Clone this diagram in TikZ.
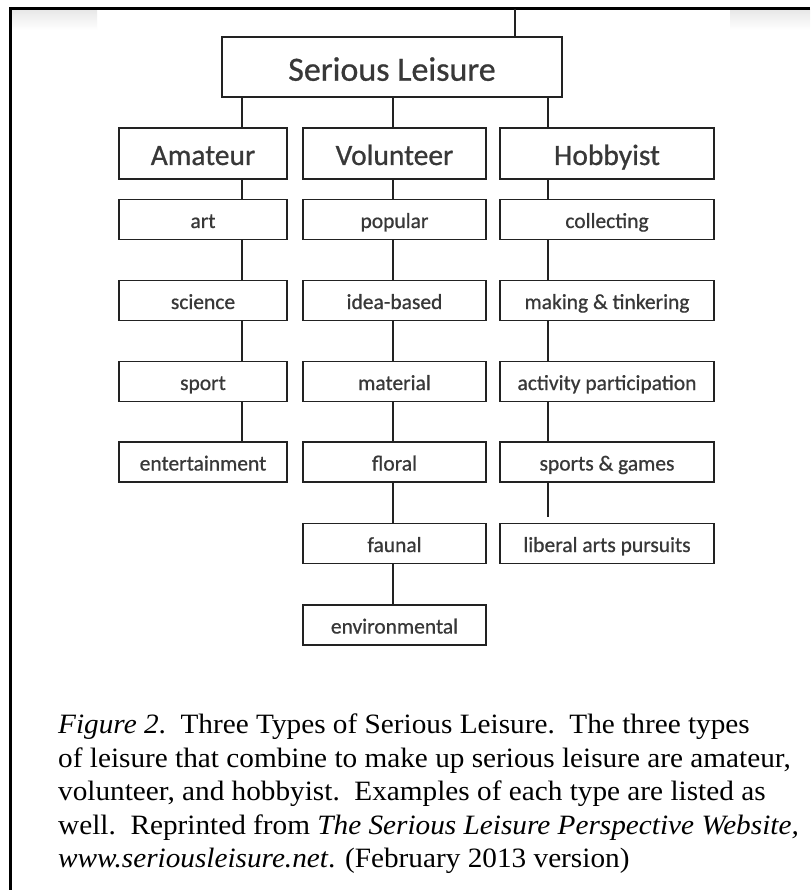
\documentclass[tikz,border=0pt]{standalone}
\usepackage{fontspec}
\setmainfont{Liberation Serif}[FakeStretch=1.045]
\newfontfamily\boxfont{Carlito}[FakeBold=0.7]
\usetikzlibrary{calc}

\definecolor{ink}{HTML}{222222}
\definecolor{boxtext}{HTML}{383838}

\tikzset{
  frameline/.style={line width=2.6pt, draw=black},
  haze/.style={top color=black!9, bottom color=white, draw=none},
  link/.style={draw=ink, line width=1.8pt},
  anybox/.style={draw=ink, line width=1.8pt, rectangle, inner sep=0pt,
    text=boxtext, align=center},
  titlebox/.style={anybox, minimum width=340pt, minimum height=60pt,
    font=\boxfont\fontsize{34}{34}\selectfont, text height=27.5pt, text depth=0pt},
  headbox/.style={anybox, minimum height=51pt,
    font=\boxfont\fontsize{29.5}{29.5}\selectfont, text height=23pt, text depth=0pt},
  itembox/.style={anybox, minimum height=40pt,
    font=\boxfont\fontsize{21.5}{21.5}\selectfont, text height=17pt, text depth=0pt},
  colA/.style={minimum width=168pt},
  colV/.style={minimum width=183pt},
  colH/.style={minimum width=214pt},
  capline/.style={anchor=base west, inner sep=0pt,
    font=\fontsize{28}{33}\selectfont}
}

\begin{document}
\begin{tikzpicture}[x=1pt, y=-1pt]
  \useasboundingbox (0,0) rectangle (810,890);
  \fill[white] (0,0) rectangle (810,890);

  % faint shading along the top edge
  \shade[haze] (12,10) rectangle (97,30);
  \shade[haze] (730,10) rectangle (810,30);

  % frame corner
  \coordinate (fTL) at (10.5,8.7);
  \draw[frameline] (10.5,890) -- (fTL) -- (810,8.7);

  % connector columns
  \coordinate (xTop) at (515,8.7);
  \coordinate (xA) at (242,0);
  \coordinate (xV) at (393,0);
  \coordinate (xH) at (548,0);

  % title
  \node[titlebox] (sl) at (392,67) {Serious Leisure};

  % the three types
  \node[headbox, colA] (am) at (203,153.5) {Amateur};
  \node[headbox, colV] (vo) at (394.5,153.5) {Volunteer};
  \node[headbox, colH] (ho) at (607,153.5) {Hobbyist};

  % amateur
  \node[itembox, colA] (a1) at (203,219.5) {art};
  \node[itembox, colA] (a2) at (203,300.5) {science};
  \node[itembox, colA] (a3) at (203,381.5) {sport};
  \node[itembox, colA] (a4) at (203,462) {entertainment};

  % volunteer
  \node[itembox, colV] (v1) at (394.5,219.5) {popular};
  \node[itembox, colV] (v2) at (394.5,300.5) {idea-based};
  \node[itembox, colV] (v3) at (394.5,381.5) {material};
  \node[itembox, colV] (v4) at (394.5,462) {floral};
  \node[itembox, colV] (v5) at (394.5,543.5) {faunal};
  \node[itembox, colV] (v6) at (394.5,625) {environmental};

  % hobbyist
  \node[itembox, colH] (h1) at (607,219.5) {collecting};
  \node[itembox, colH] (h2) at (607,300.5) {making \& tinkering};
  \node[itembox, colH] (h3) at (607,381.5) {activity participation};
  \node[itembox, colH] (h4) at (607,462) {sports \& games};
  \node[itembox, colH] (h5) at (607,543.5) {liberal arts pursuits};

  % connectors
  \draw[link] (xTop) -- (sl.north -| xTop);
  \draw[link] (sl.south -| xA) -- (am.north -| xA);
  \draw[link] (sl.south -| xV) -- (vo.north -| xV);
  \draw[link] (sl.south -| xH) -- (ho.north -| xH);

  \draw[link] (am.south -| xA) -- (a1.north -| xA);
  \draw[link] (a1.south -| xA) -- (a2.north -| xA);
  \draw[link] (a2.south -| xA) -- (a3.north -| xA);
  \draw[link] (a3.south -| xA) -- (a4.north -| xA);

  \draw[link] (vo.south -| xV) -- (v1.north -| xV);
  \draw[link] (v1.south -| xV) -- (v2.north -| xV);
  \draw[link] (v2.south -| xV) -- (v3.north -| xV);
  \draw[link] (v3.south -| xV) -- (v4.north -| xV);
  \draw[link] (v4.south -| xV) -- (v5.north -| xV);
  \draw[link] (v5.south -| xV) -- (v6.north -| xV);

  \draw[link] (ho.south -| xH) -- (h1.north -| xH);
  \draw[link] (h1.south -| xH) -- (h2.north -| xH);
  \draw[link] (h2.south -| xH) -- (h3.north -| xH);
  \draw[link] (h3.south -| xH) -- (h4.north -| xH);
  \coordinate (hEnd) at (548,517);
  \draw[link] (h4.south -| xH) -- (hEnd);

  % caption
  \node[capline] (cap1) at (58,733) {\textit{Figure 2}.\ \ Three Types of Serious Leisure.\ \ The three types};
  \node[capline] (cap2) at (58,767) {of leisure that combine to make up serious leisure are amateur,};
  \node[capline] (cap3) at (58,800) {volunteer, and hobbyist.\ \ Examples of each type are listed as};
  \node[capline] (cap4) at (58,834) {well.\ \ Reprinted from \textit{The Serious Leisure Perspective Website,}};
  \node[capline] (cap5) at (58,867) {\textit{www.seriousleisure.net}. (February 2013 version)};
\end{tikzpicture}
\end{document}
